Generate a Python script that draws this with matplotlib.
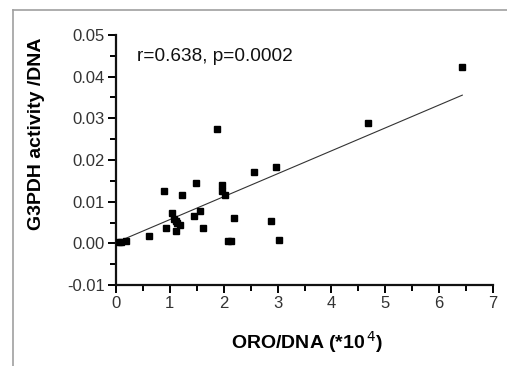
import matplotlib
matplotlib.use("Agg")
import matplotlib.pyplot as plt
from matplotlib.lines import Line2D
from matplotlib.ticker import MultipleLocator, FormatStrFormatter
import numpy as np

plt.rcParams['font.family'] = ['Liberation Sans', 'DejaVu Sans']

# ORO/DNA (*10^4) vs G3PDH activity / DNA
oro_dna = [0.05, 0.10, 0.18, 0.62, 0.89, 0.93, 1.04, 1.08, 1.11, 1.14,
           1.19, 1.12, 1.23, 1.45, 1.48, 1.56, 1.62, 1.88, 1.96, 1.96,
           2.03, 2.08, 2.14, 2.19, 2.56, 2.88, 2.97, 3.03, 4.68, 6.43]
g3pdh = [0.0003, 0.0004, 0.0005, 0.0017, 0.0125, 0.0036, 0.0073, 0.0058, 0.0053, 0.0048,
         0.0044, 0.0029, 0.0117, 0.0066, 0.0144, 0.0078, 0.0038, 0.0275, 0.0139, 0.0125,
         0.0117, 0.0005, 0.0005, 0.0061, 0.0170, 0.0054, 0.0183, 0.0007, 0.0289, 0.0422]

# regression line as drawn in the figure
fit_intercept = 0.0002
fit_slope = 0.0055
stats_text = "r=0.638, p=0.0002"

fig = plt.figure(figsize=(5.07, 3.66), dpi=100)
ax = fig.add_axes([0.2288, 0.2213, 0.7436, 0.6831])

ax.plot(oro_dna, g3pdh, 's', color='black', markersize=4.0, zorder=3)

xs = np.array([min(oro_dna), max(oro_dna)])
ax.plot(xs, fit_intercept + fit_slope * xs, color='#333333', linewidth=0.8)

ax.set_xlim(0, 7)
ax.set_ylim(-0.01, 0.05)
ax.xaxis.set_major_locator(MultipleLocator(1))
ax.xaxis.set_minor_locator(MultipleLocator(0.5))
ax.yaxis.set_major_locator(MultipleLocator(0.01))
ax.yaxis.set_minor_locator(MultipleLocator(0.005))
ax.yaxis.set_major_formatter(FormatStrFormatter('%.2f'))

for side in ['top', 'right']:
    ax.spines[side].set_visible(False)
for side in ['left', 'bottom']:
    ax.spines[side].set_linewidth(1.6)
    ax.spines[side].set_color('#111111')
ax.tick_params(which='major', length=6, width=1.4, labelsize=12,
               labelcolor='#333333', pad=2)
ax.tick_params(which='minor', length=4, width=1.4)

ax.text(0.39, 0.0448, stats_text, fontsize=13.7, ha='left', va='center', color='#111111')

ax.set_xlabel(r'ORO/DNA (*10$^{\,4}$)', fontsize=14, fontweight='bold', va='center')
ax.xaxis.set_label_coords(0.507, -0.228)
ax.set_ylabel('G3PDH activity /DNA', fontsize=14, fontweight='bold', va='center')
ax.yaxis.set_label_coords(-0.21, 0.604)

# grey frame on the left and top edges
fig.add_artist(Line2D([0.0256, 1.0], [0.9727, 0.9727], color='#a0a0a0', linewidth=1.2))
fig.add_artist(Line2D([0.0256, 0.0256], [0.0, 0.9727], color='#a0a0a0', linewidth=1.2))

fig.savefig('out.png', dpi=100)
